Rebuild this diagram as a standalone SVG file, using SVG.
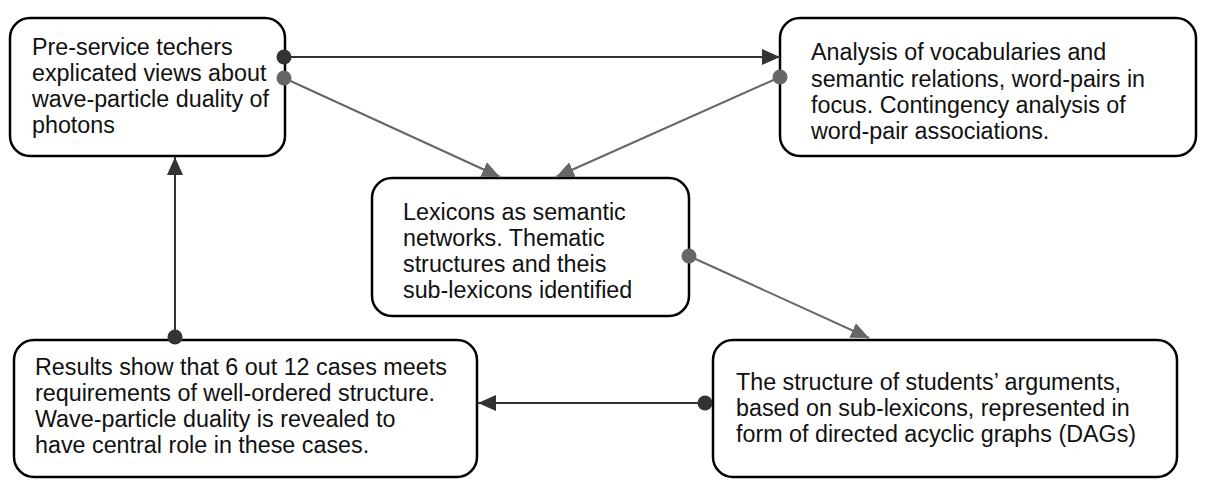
<svg xmlns="http://www.w3.org/2000/svg" width="1207" height="491" viewBox="0 0 1207 491">
<style>
.box{fill:#fff;stroke:#000;stroke-width:2.5}
.t{font-family:"Liberation Sans",Arial,sans-serif;font-size:23.3px;fill:#111}
.dk{stroke:#333;stroke-width:2;fill:none}
.gr{stroke:#666;stroke-width:2;fill:none}
</style>
<defs>
<marker id="ad" markerUnits="userSpaceOnUse" viewBox="0 0 18 16" refX="18" refY="8" markerWidth="18" markerHeight="16" orient="auto"><path d="M0,0 L18,8 L0,16 z" fill="#333"/></marker>
<marker id="ag" markerUnits="userSpaceOnUse" viewBox="0 0 18 16" refX="18" refY="8" markerWidth="18" markerHeight="16" orient="auto"><path d="M0,0 L18,8 L0,16 z" fill="#666"/></marker>
<marker id="dd" markerUnits="userSpaceOnUse" viewBox="0 0 16 16" refX="8" refY="8" markerWidth="16" markerHeight="16"><circle cx="8" cy="8" r="7.5" fill="#333"/></marker>
<marker id="dg" markerUnits="userSpaceOnUse" viewBox="0 0 16 16" refX="8" refY="8" markerWidth="16" markerHeight="16"><circle cx="8" cy="8" r="7.5" fill="#666"/></marker>
</defs>
<g id="n1"><rect class="box" x="10" y="18" width="275" height="138" rx="20"/>
<text class="t" x="32" y="55">Pre-service techers</text>
<text class="t" x="32" y="81">explicated views about</text>
<text class="t" x="32" y="107">wave-particle duality of</text>
<text class="t" x="32" y="133">photons</text></g>
<g id="n2"><rect class="box" x="780" y="18" width="416" height="138" rx="20"/>
<text class="t" x="811" y="60">Analysis of vocabularies and</text>
<text class="t" x="811" y="87">semantic relations, word-pairs in</text>
<text class="t" x="811" y="113">focus. Contingency analysis of</text>
<text class="t" x="811" y="139">word-pair associations.</text></g>
<g id="n3"><rect class="box" x="372" y="178" width="317" height="138" rx="20"/>
<text class="t" x="403" y="220">Lexicons as semantic</text>
<text class="t" x="403" y="246">networks. Thematic</text>
<text class="t" x="403" y="272">structures and theis</text>
<text class="t" x="403" y="298">sub-lexicons identified</text></g>
<g id="n4"><rect class="box" x="14" y="340" width="463" height="137" rx="20"/>
<text class="t" x="35" y="375">Results show that 6 out 12 cases meets</text>
<text class="t" x="35" y="401">requirements of well-ordered structure.</text>
<text class="t" x="35" y="427">Wave-particle duality is revealed to</text>
<text class="t" x="35" y="453">have central role in these cases.</text></g>
<g id="n5"><rect class="box" x="713" y="340" width="464" height="137" rx="20"/>
<text class="t" x="736" y="390">The structure of students’ arguments,</text>
<text class="t" x="736" y="416">based on sub-lexicons, represented in</text>
<text class="t" x="736" y="442">form of directed acyclic graphs (DAGs)</text></g>
<g id="connectors">
<line class="dk" x1="284" y1="57" x2="780" y2="57" marker-start="url(#dd)" marker-end="url(#ad)"/>
<line class="gr" x1="284" y1="78" x2="500" y2="177" marker-start="url(#dg)" marker-end="url(#ag)"/>
<line class="gr" x1="780" y1="77" x2="556" y2="177" marker-start="url(#dg)" marker-end="url(#ag)"/>
<line class="gr" x1="689" y1="256" x2="869" y2="338" marker-start="url(#dg)" marker-end="url(#ag)"/>
<line class="dk" x1="705" y1="403" x2="478" y2="403" marker-start="url(#dd)" marker-end="url(#ad)"/>
<line class="dk" x1="175" y1="337" x2="175" y2="157" marker-start="url(#dd)" marker-end="url(#ad)"/>
</g>
</svg>
